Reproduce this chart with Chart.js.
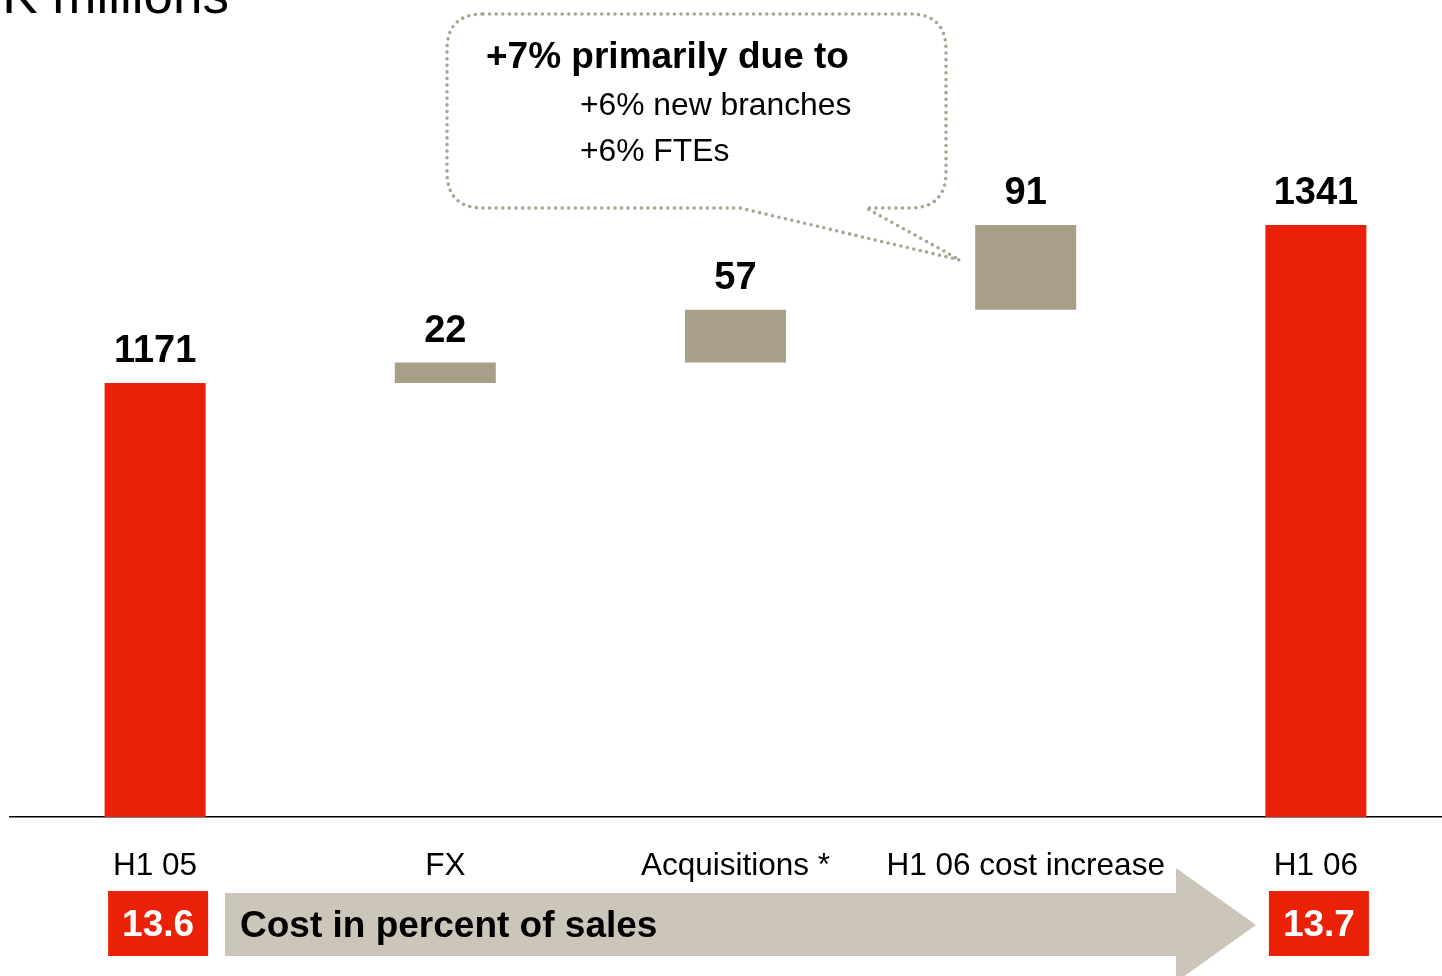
<!DOCTYPE html>
<html>
<head>
<meta charset="utf-8">
<script src="https://cdn.jsdelivr.net/npm/chart.js@4.4.1/dist/chart.umd.min.js"></script>
<style>
	html, body { margin: 0; padding: 0; background: #fff; overflow: hidden; }
	#wrap { position: absolute; left: 0; top: 0; width: 1462px; height: 976px; }
</style>
</head>
<body>
<div id="wrap"><canvas id="costChart"></canvas></div>
<script>
"use strict";

// chart data
var categories = ['H1 05', 'FX', 'Acquisitions *', 'H1 06 cost increase', 'H1 06'];
var values = [1171, 22, 57, 91, 1341];
var isTotal = [true, false, false, false, true];
var pctLabels = ['13.6', '13.7'];
var unitTitle = 'SEK millions';
var calloutTitle = '+7% primarily due to';
var calloutLines = ['+6% new branches', '+6% FTEs'];

var RED = '#ea2106';
var GREY = '#a89f89';
var ARROW = '#ccc5b9';
var DOTS = '#a8a58f';
var FONT = '"Liberation Sans", Arial, sans-serif';

// waterfall ranges
var ranges = [];
var running = 0;
for (var i = 0; i < values.length; i++) {
	if (isTotal[i]) {
		ranges.push([0, values[i]]);
		running = values[i];
	} else {
		ranges.push([running, running + values[i]]);
		running += values[i];
	}
}

var waterfallExtras = {
	id: 'waterfallExtras',
	afterDatasetsDraw: function (chart) {
		var ctx = chart.ctx;
		var meta = chart.getDatasetMeta(0);

		// value labels above bars
		ctx.save();
		ctx.fillStyle = '#000';
		ctx.font = 'bold 38px ' + FONT;
		ctx.textAlign = 'center';
		ctx.textBaseline = 'alphabetic';
		meta.data.forEach(function (bar, idx) {
			ctx.fillText(String(values[idx]), bar.x, bar.y - 21);
		});
		ctx.restore();

		// unit title (cut at the top)
		ctx.save();
		ctx.fillStyle = '#000';
		ctx.font = '53px ' + FONT;
		ctx.textAlign = 'right';
		ctx.fillText(unitTitle, 229, 13);
		ctx.restore();

		// arrow "cost in percent of sales"
		var first = meta.data[0], last = meta.data[meta.data.length - 1];
		ctx.save();
		ctx.fillStyle = ARROW;
		ctx.beginPath();
		ctx.moveTo(225, 893);
		ctx.lineTo(1176, 893);
		ctx.lineTo(1176, 868);
		ctx.lineTo(1256, 925);
		ctx.lineTo(1176, 982);
		ctx.lineTo(1176, 956);
		ctx.lineTo(225, 956);
		ctx.closePath();
		ctx.fill();
		ctx.fillStyle = '#000';
		ctx.font = 'bold 37px ' + FONT;
		ctx.textAlign = 'left';
		ctx.textBaseline = 'middle';
		ctx.fillText('Cost in percent of sales', 240, 927);

		// percent boxes
		[first, last].forEach(function (bar, k) {
			var bx = bar.x + 3 - 50;
			ctx.fillStyle = RED;
			ctx.fillRect(bx, 891, 100, 65);
			ctx.fillStyle = '#fff';
			ctx.font = 'bold 37px ' + FONT;
			ctx.textAlign = 'center';
			ctx.fillText(pctLabels[k], bx + 50, 926);
		});
		ctx.restore();

		// callout bubble
		var L = 447, T = 14, R = 946, B = 208, r = 36;
		ctx.save();
		ctx.strokeStyle = DOTS;
		ctx.lineWidth = 3.6;
		ctx.lineCap = 'round';
		ctx.setLineDash([0, 6.6]);
		ctx.beginPath();
		ctx.moveTo(L + r, T);
		ctx.lineTo(R - r, T);
		ctx.quadraticCurveTo(R, T, R, T + r);
		ctx.lineTo(R, B - r);
		ctx.quadraticCurveTo(R, B, R - r, B);
		ctx.lineTo(866, B);
		ctx.lineTo(960, 260);
		ctx.lineTo(740, B);
		ctx.lineTo(L + r, B);
		ctx.quadraticCurveTo(L, B, L, B - r);
		ctx.lineTo(L, T + r);
		ctx.quadraticCurveTo(L, T, L + r, T);
		ctx.stroke();
		ctx.restore();

		ctx.save();
		ctx.fillStyle = '#000';
		ctx.textAlign = 'left';
		ctx.font = 'bold 37px ' + FONT;
		ctx.fillText(calloutTitle, 486, 68);
		ctx.font = '31.8px ' + FONT;
		ctx.fillText(calloutLines[0], 580, 115);
		ctx.fillText(calloutLines[1], 580, 161);
		ctx.restore();
	}
};

var costChart = new Chart('costChart', {
	type: 'bar',
	data: {
		labels: categories,
		datasets: [{
			data: ranges,
			backgroundColor: isTotal.map(function (t) { return t ? RED : GREY; }),
			borderWidth: 0,
			borderSkipped: false,
			categoryPercentage: 1,
			barPercentage: 0.348,
			clip: 0
		}]
	},
	options: {
		responsive: true,
		maintainAspectRatio: false,
		animation: false,
		layout: { padding: { left: 10, right: 1, top: 3, bottom: 0 } },
		plugins: {
			legend: { display: false },
			tooltip: { enabled: false }
		},
		scales: {
			x: {
				grid: { display: false, drawTicks: false },
				border: { display: true, color: '#000', width: 1.5 },
				ticks: {
					color: '#000',
					padding: 30,
					maxRotation: 0,
					autoSkip: false,
					font: { family: FONT, size: 31.5 }
				},
				afterFit: function (scale) { scale.height = 159; }
			},
			y: {
				display: false,
				min: 704,
				max: 1580
			}
		}
	},
	plugins: [waterfallExtras]
});
</script>
</body>
</html>
